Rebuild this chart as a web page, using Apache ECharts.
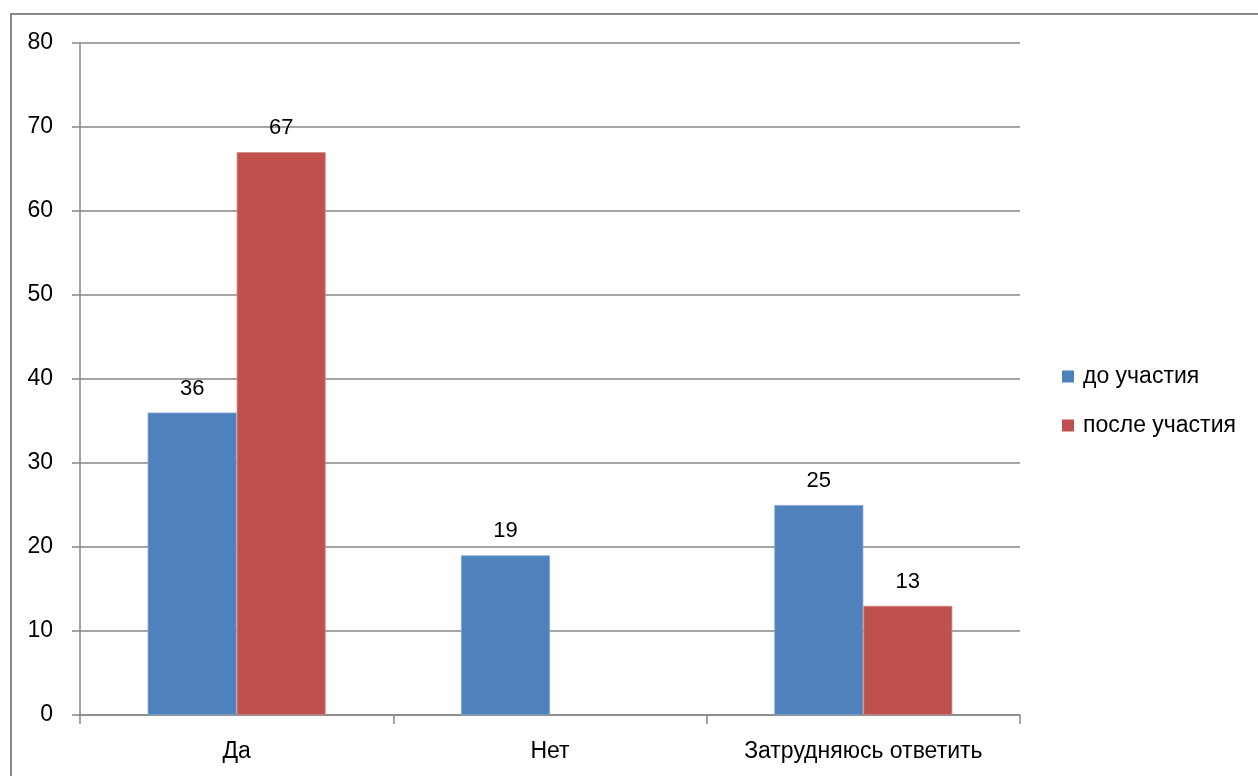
<!DOCTYPE html>
<html>
<head>
<meta charset="utf-8">
<script src="https://cdn.jsdelivr.net/npm/echarts@6/dist/echarts.min.js"></script>
<style>
html,body{margin:0;padding:0;background:#fff;}
#chart{width:1258px;height:776px;}
</style>
</head>
<body>
<div id="chart"></div>
<script>
var categories = ['Да', 'Нет', 'Затрудняюсь ответить'];
var seriesNames = ['до участия', 'после участия'];
var beforeValues = [36, 19, 25];
var afterValues = [67, null, 13];
var yTicks = [0, 10, 20, 30, 40, 50, 60, 70, 80];

var FONT = 'Liberation Sans, Arial, sans-serif';
var chart = echarts.init(document.getElementById('chart'), null, {renderer: 'canvas'});
var labelStyle = {show: true, position: 'top', distance: 13, color: '#000', fontFamily: FONT, fontSize: 22};
chart.setOption({
  animation: false,
  backgroundColor: '#fff',
  graphic: [{
    type: 'polyline',
    shape: {points: [[11, 790], [11, 14], [1270, 14]]},
    style: {stroke: '#888888', lineWidth: 2, fill: null},
    silent: true
  }],
  grid: {left: 80, right: 238, top: 43, bottom: 61, containLabel: false},
  legend: {
    orient: 'vertical',
    left: 1062,
    top: 365,
    padding: 0,
    icon: 'rect',
    itemWidth: 12,
    itemHeight: 12,
    itemGap: 26,
    itemStyle: {borderWidth: 0},
    textStyle: {color: '#000', fontFamily: FONT, fontSize: 23, padding: [0, 0, 0, 4]},
    data: seriesNames
  },
  xAxis: {
    type: 'category',
    data: categories,
    axisLine: {lineStyle: {color: '#868686', width: 1.5}},
    axisTick: {show: true, length: 9, alignWithLabel: false, lineStyle: {color: '#868686', width: 1.5}},
    axisLabel: {color: '#000', fontFamily: FONT, fontSize: 23, margin: 25}
  },
  yAxis: {
    type: 'value',
    min: yTicks[0],
    max: yTicks[yTicks.length - 1],
    interval: 10,
    axisLine: {show: true, lineStyle: {color: '#868686', width: 1.5}},
    axisTick: {show: true, length: 8, lineStyle: {color: '#868686', width: 1.5}},
    axisLabel: {color: '#000', fontFamily: FONT, fontSize: 23, margin: 27},
    splitLine: {show: true, lineStyle: {color: '#868686', width: 1.5}}
  },
  series: [
    {
      name: seriesNames[0],
      type: 'bar',
      data: beforeValues,
      barWidth: 89,
      barGap: '0%',
      itemStyle: {color: '#4F81BD', borderColor: '#7EA3D3', borderWidth: 0.8},
      label: labelStyle
    },
    {
      name: seriesNames[1],
      type: 'bar',
      data: afterValues,
      barWidth: 89,
      barGap: '0%',
      itemStyle: {color: '#C0504D', borderColor: '#D48886', borderWidth: 0.8},
      label: labelStyle
    }
  ]
});
</script>
</body>
</html>
